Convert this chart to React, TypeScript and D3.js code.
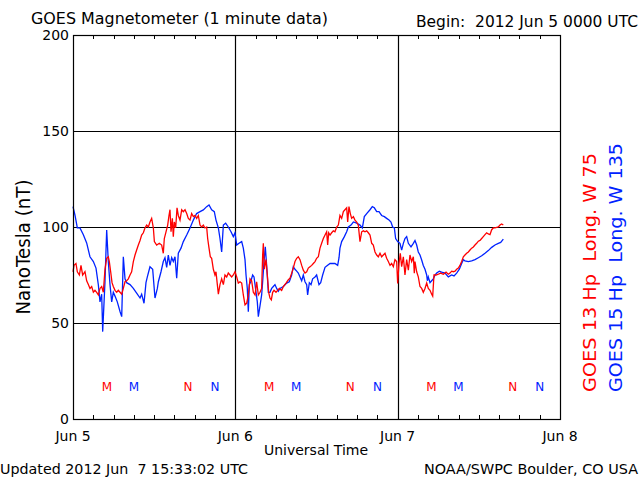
import React from 'react';
import * as d3 from 'd3';

// ---- Data (hours since 2012 Jun 5 00:00 UTC, nT) ----
const goes13Data: [number, number][] = [
  [0,76.7],[0.15,80],[0.44,81],[0.64,76.7],[0.94,75],[1.18,80],[1.43,75],[1.77,76.7],[2.02,72],[2.27,70],[2.51,68],[2.76,69],[3.01,66],[3.25,67],[3.50,66],[3.75,64.6],[3.99,68],[4.24,69],[4.48,66],[4.73,78],[4.98,83.7],[5.22,84.5],[5.37,82],[5.57,76.7],[5.77,71],[5.96,69],[6.21,67],[6.46,66],[6.70,67],[6.95,66],[7.20,65],[7.44,68],[7.69,71.5],[7.93,72],[8.18,73],[8.43,75],[8.67,76.7],[8.92,82],[9.17,85.4],[9.41,88],[9.66,90.6],[9.91,93],[10.15,95.8],[10.40,97],[10.64,99.5],[10.89,101],[11.14,100],[11.38,102.6],[11.63,104.5],[11.88,99.5],[12.03,92.4],[12.37,90.6],[12.76,91.5],[13.11,90.6],[13.35,86.3],[13.50,94],[13.75,97.5],[14.00,101],[14.19,106],[14.34,109],[14.49,97.5],[14.69,104.5],[14.83,95],[14.98,102.6],[15.18,99.5],[15.38,110],[15.57,106],[15.82,103.6],[16.07,109],[16.31,108],[16.56,109],[16.81,107],[17.05,104.5],[17.30,103.6],[17.54,107],[17.79,105.4],[18.04,106],[18.28,104.5],[18.53,106],[18.78,101],[19.02,100],[19.27,101],[19.51,99.5],[19.76,100],[19.91,94],[20.11,89],[20.30,84.5],[20.50,83.7],[20.75,78],[20.99,75],[21.14,76.7],[21.34,70],[21.49,65],[21.73,70],[21.98,73],[22.23,70],[22.47,75],[22.72,74],[22.96,76],[23.21,75],[23.46,74],[23.70,75],[23.95,76.7],[24.20,74],[24.44,70.8],[24.69,71.5],[24.94,70.8],[25.18,64.6],[25.43,59.4],[25.68,60.3],[25.92,64.6],[26.17,73],[26.41,72],[26.66,66],[26.91,64.6],[27.15,71.5],[27.40,64.6],[27.65,66],[27.89,68],[28.04,85.4],[28.14,91.5],[28.29,78],[28.53,83],[28.73,75],[28.93,66],[29.12,63],[29.32,62],[29.52,66],[29.72,67],[30.01,66],[30.26,67],[30.50,68],[30.85,67],[31.10,69],[31.49,70.8],[31.84,72.5],[32.08,73.3],[32.33,76],[32.57,78.6],[32.82,82],[33.07,83.7],[33.31,84.5],[33.56,83],[33.81,80],[34.05,77.5],[34.30,76],[34.55,76.7],[34.79,78.6],[35.04,79.3],[35.29,80],[35.53,81],[35.78,82],[36.02,83.7],[36.27,84.5],[36.52,89],[36.76,91.5],[37.01,94],[37.26,95.8],[37.50,97.5],[37.65,90.6],[37.80,97],[38.00,95.8],[38.24,97],[38.49,98],[38.73,97.5],[38.98,100],[39.23,101],[39.47,106],[39.72,104.5],[39.97,108],[40.21,109],[40.46,110],[40.61,102.6],[40.80,110.6],[41.00,107],[41.20,104.5],[41.45,105.4],[41.69,103.6],[41.94,102.6],[42.18,101],[42.43,92.4],[42.68,97.5],[42.93,98],[43.17,97.5],[43.42,98],[43.66,97],[43.91,95.8],[44.16,91.5],[44.40,90.6],[44.65,87],[44.90,85.4],[45.14,84.5],[45.39,86.3],[45.63,84.5],[45.88,85.4],[46.13,86.3],[46.37,83.7],[46.62,82],[46.87,80],[47.11,81],[47.36,79.3],[47.60,83],[47.85,82],[48.00,70.6],[48.20,81],[48.39,86.3],[48.59,79.3],[48.84,84.5],[49.08,75],[49.33,83],[49.58,77.5],[49.82,85.4],[50.07,82],[50.32,84.5],[50.46,75.9],[50.56,82],[50.81,76.7],[51.05,74],[51.30,69],[51.55,68],[51.79,66],[52.04,68],[52.29,70.8],[52.53,68],[52.78,67],[53.03,65],[53.18,64],[53.37,75],[53.67,75],[54.01,75.4],[54.36,76],[54.75,75.4],[55.15,76.5],[55.49,75.4],[55.74,76],[55.98,77],[56.23,76.7],[56.48,77],[56.72,78],[56.97,78.6],[57.21,80],[57.46,82],[57.71,84.5],[57.95,85.4],[58.20,86.3],[58.45,87],[58.69,88],[58.94,89],[59.19,89.6],[59.43,90.6],[59.68,91.5],[59.93,92.6],[60.17,93],[60.42,94],[60.66,95],[60.91,96],[61.16,97],[61.40,96.4],[61.65,96],[61.90,98.6],[62.14,99.5],[62.39,99.5],[62.64,99.8],[62.88,100],[63.13,101],[63.37,101.6],[63.62,101]
];

const goes15Data: [number, number][] = [
  [0,110.6],[0.30,106],[0.64,99.5],[1.03,99.5],[1.53,96],[2.02,91.7],[2.51,84.5],[3.01,82],[3.40,78.6],[3.75,69.8],[3.99,61],[4.24,65],[4.39,45.5],[4.73,71.5],[4.98,98.4],[5.22,82],[5.47,70],[5.72,61],[5.96,66],[6.21,64],[6.55,61],[6.95,56],[7.20,53.3],[7.44,84.5],[7.69,73],[7.93,71],[8.43,70],[8.92,68],[9.41,65.5],[9.91,63],[10.15,65],[10.50,60.3],[10.79,71],[10.99,74],[11.38,79.3],[11.78,78],[12.12,63],[12.47,68],[12.62,71.5],[13.01,76.7],[13.35,82],[13.60,84],[13.85,79],[14.09,85.4],[14.34,80],[14.59,84],[14.83,82],[15.08,84.5],[15.33,73.3],[15.57,86.3],[15.97,89],[16.31,92.4],[16.81,95.8],[17.30,99.5],[17.79,103.6],[18.28,107],[18.78,108],[19.27,108.9],[19.76,110.6],[20.11,111.5],[20.50,109],[20.89,108],[21.14,103.6],[21.49,99.5],[21.73,94],[21.98,87],[22.23,101],[22.57,102],[22.96,100],[23.36,97.5],[23.70,95],[23.95,97],[24.20,90.6],[24.54,91.5],[24.94,92.4],[25.18,89],[25.43,83],[25.58,75],[25.77,68],[25.92,55.9],[26.07,70],[26.27,71.5],[26.56,75],[26.76,74],[27.06,66],[27.25,61],[27.40,53.3],[27.65,59],[27.89,64.6],[28.04,71.5],[28.24,82],[28.43,89.7],[28.63,80],[28.88,66],[29.12,66],[29.37,68],[29.62,69],[29.86,70],[30.11,68],[30.36,66.5],[30.60,68],[31.10,69],[31.59,70.8],[31.98,71.5],[32.33,75],[32.57,79.3],[32.82,78],[33.07,77],[33.31,76],[33.56,74],[33.81,72],[34.05,75],[34.30,71.5],[34.55,70],[34.69,64.6],[34.94,71],[35.19,70],[35.43,73],[35.78,74],[36.02,75],[36.37,70],[36.62,71],[36.91,75],[37.26,79],[37.60,80],[38.00,81],[38.24,81],[38.73,81],[39.13,80],[39.33,84],[39.47,89],[39.72,92.4],[40.12,95],[40.46,97.5],[40.71,100],[41.10,101],[41.45,102.6],[41.94,102],[42.43,101],[42.78,99.5],[43.07,105.4],[43.42,107],[43.91,109],[44.25,110.6],[44.55,110],[44.90,108],[45.24,108],[45.63,106],[46.03,105.4],[46.37,104.5],[46.72,103.6],[47.01,102.6],[47.26,100],[47.51,99.5],[47.70,94],[48.00,92.4],[48.34,91.5],[48.59,88],[48.84,91.5],[49.08,94],[49.33,95],[49.58,91.5],[49.97,89.7],[50.32,91.5],[50.56,93],[50.81,90.6],[51.05,87],[51.30,85.4],[51.55,82.8],[51.79,80],[52.04,78],[52.29,75],[52.39,72],[52.53,74],[52.78,71],[53.03,72],[53.27,73],[53.52,75],[53.77,76],[54.16,77],[54.50,76.5],[55.00,76],[55.49,74],[55.98,75],[56.33,74.5],[56.72,76],[57.12,78],[57.46,81],[57.71,83],[57.95,82.4],[58.45,82],[58.94,82.4],[59.43,83],[59.93,84],[60.42,85],[60.91,86.3],[61.40,87.7],[61.90,89.4],[62.39,90.6],[62.88,91.5],[63.23,92],[63.62,93.7]
];

const yTicks = [0, 50, 100, 150, 200];
const dayHours = [0, 24, 48, 72];
const dayLabels = ['Jun 5', 'Jun 6', 'Jun 7', 'Jun 8'];
const markerDays = [0, 1, 2];
const goes13Markers: [string, number][] = [['M', 5], ['N', 17]];
const goes15Markers: [string, number][] = [['M', 9], ['N', 21]];

const RED = '#ff0000';
const BLUE = '#0022ff';
const FONT = 'DejaVu Sans, sans-serif';

export default function App() {
  const left = 73, right = 560, top = 35, bottom = 419;
  const x = d3.scaleLinear().domain([0, 72]).range([left, right]);
  const y = d3.scaleLinear().domain([0, 200]).range([bottom, top]);
  const line = d3.line<[number, number]>().x(d => x(d[0])).y(d => y(d[1]));
  const minorTicks = d3.range(0, 73, 3);

  return (
    <svg width={640} height={480} style={{ position: 'absolute', left: 0, top: 0, background: '#fff' }} fontFamily={FONT}>
      <rect x={0} y={0} width={640} height={480} fill="#fff" />
      {/* grid */}
      {yTicks.filter(t => t > 0 && t < 200).map(t => (
        <line key={'gy' + t} x1={left} x2={right} y1={Math.round(y(t)) + 0.5} y2={Math.round(y(t)) + 0.5} stroke="#000" strokeWidth={1.2} />
      ))}
      {dayHours.filter(h => h > 0 && h < 72).map(h => (
        <line key={'gx' + h} x1={Math.round(x(h)) + 0.5} x2={Math.round(x(h)) + 0.5} y1={top} y2={bottom} stroke="#000" strokeWidth={1.2} />
      ))}
      {/* minor ticks top & bottom */}
      {minorTicks.map(h => (
        <g key={'mt' + h}>
          <line x1={Math.round(x(h)) + 0.5} x2={Math.round(x(h)) + 0.5} y1={top} y2={top + 4} stroke="#000" />
          <line x1={Math.round(x(h)) + 0.5} x2={Math.round(x(h)) + 0.5} y1={bottom} y2={bottom - 4} stroke="#000" />
        </g>
      ))}
      {/* series */}
      <path d={line(goes15Data) || ''} fill="none" stroke={BLUE} strokeWidth={1.3} strokeLinejoin="miter" />
      <path d={line(goes13Data) || ''} fill="none" stroke={RED} strokeWidth={1.3} strokeLinejoin="miter" />
      {/* frame */}
      <rect x={left + 0.5} y={top + 0.5} width={right - left} height={bottom - top} fill="none" stroke="#000" strokeWidth={1.2} />
      {/* y tick labels */}
      {yTicks.map(t => (
        <text key={'yl' + t} x={69} y={y(t) + 5} fontSize={14} textAnchor="end">{t}</text>
      ))}
      {/* x labels */}
      {dayHours.map((h, i) => (
        <text key={'xl' + h} x={x(h)} y={441} fontSize={14} textAnchor="middle">{dayLabels[i]}</text>
      ))}
      <text x={316} y={455} fontSize={14} textAnchor="middle">Universal Time</text>
      {/* M / N markers */}
      {markerDays.map(d => (
        <g key={'md' + d}>
          {goes13Markers.map(([lab, h]) => (
            <text key={'r' + lab} x={x(d * 24 + h)} y={391} fontSize={12} textAnchor="middle" fill={RED}>{lab}</text>
          ))}
          {goes15Markers.map(([lab, h]) => (
            <text key={'b' + lab} x={x(d * 24 + h)} y={391} fontSize={12} textAnchor="middle" fill={BLUE}>{lab}</text>
          ))}
        </g>
      ))}
      {/* titles */}
      <text x={31} y={24} fontSize={15} textLength={297} lengthAdjust="spacingAndGlyphs">GOES Magnetometer (1 minute data)</text>
      <text x={416} y={27} fontSize={15} textLength={222} lengthAdjust="spacingAndGlyphs" style={{ whiteSpace: 'pre' }}>Begin:  2012 Jun 5 0000 UTC</text>
      <text transform="translate(30,247) rotate(-90)" fontSize={19} textAnchor="middle" textLength={135} lengthAdjust="spacingAndGlyphs">NanoTesla (nT)</text>
      <text transform="translate(596,392) rotate(-90)" fontSize={17} fill={RED} textLength={239} lengthAdjust="spacingAndGlyphs" style={{ whiteSpace: 'pre' }}>GOES 13 Hp  Long. W 75</text>
      <text transform="translate(622,392) rotate(-90)" fontSize={17} fill={BLUE} textLength={249} lengthAdjust="spacingAndGlyphs" style={{ whiteSpace: 'pre' }}>GOES 15 Hp  Long. W 135</text>
      {/* footer */}
      <text x={0} y={474} fontSize={14} textLength={248} lengthAdjust="spacingAndGlyphs" style={{ whiteSpace: 'pre' }}>Updated 2012 Jun  7 15:33:02 UTC</text>
      <text x={638} y={474} fontSize={14} textAnchor="end" textLength={214} lengthAdjust="spacingAndGlyphs">NOAA/SWPC Boulder, CO USA</text>
    </svg>
  );
}
